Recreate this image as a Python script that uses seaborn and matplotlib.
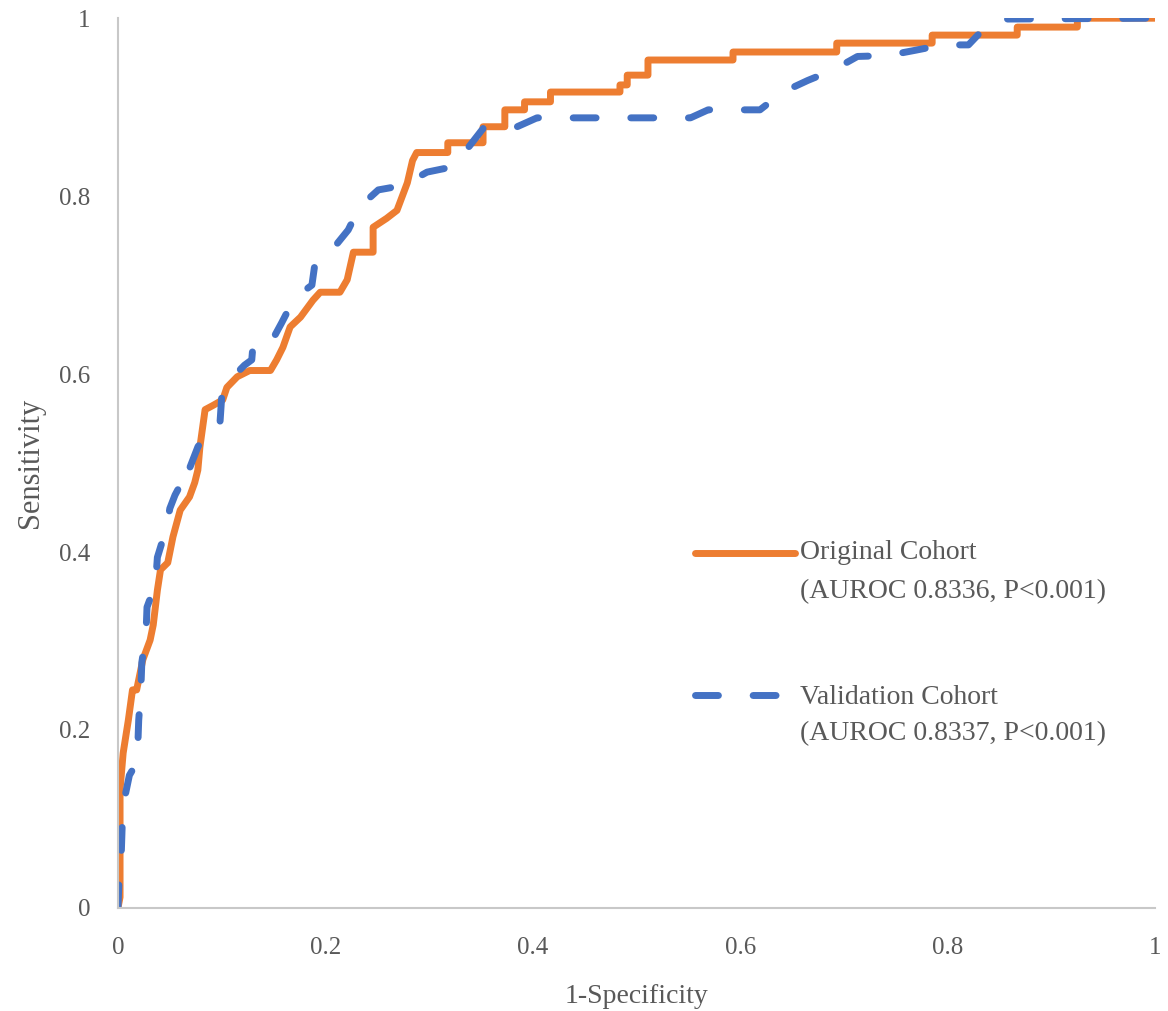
import pandas as pd
import matplotlib.pyplot as plt
import seaborn as sns

# ROC points (1-specificity, sensitivity)
orig_fpr = [0, 0.002, 0.002, 0.005, 0.010, 0.014, 0.018, 0.024, 0.031, 0.034, 0.038, 0.041,
            0.048, 0.053, 0.060, 0.069, 0.074, 0.077, 0.079, 0.084, 0.092, 0.101, 0.105, 0.115,
            0.127, 0.147, 0.153, 0.159, 0.166, 0.176, 0.188, 0.195, 0.214, 0.221, 0.227, 0.246,
            0.246, 0.259, 0.269, 0.279, 0.284, 0.288, 0.318, 0.318, 0.352, 0.352, 0.373, 0.373,
            0.392, 0.392, 0.417, 0.417, 0.484, 0.484, 0.491, 0.491, 0.511, 0.511, 0.593, 0.593,
            0.693, 0.693, 0.785, 0.785, 0.867, 0.867, 0.925, 0.925, 1.0]
orig_tpr = [0, 0.012, 0.133, 0.174, 0.211, 0.245, 0.245, 0.279, 0.301, 0.318, 0.357, 0.380,
            0.388, 0.417, 0.447, 0.462, 0.478, 0.492, 0.518, 0.560, 0.565, 0.571, 0.585, 0.597,
            0.604, 0.604, 0.616, 0.630, 0.653, 0.664, 0.683, 0.692, 0.692, 0.706, 0.737, 0.737,
            0.765, 0.775, 0.784, 0.815, 0.840, 0.849, 0.849, 0.860, 0.860, 0.878, 0.878, 0.897,
            0.897, 0.906, 0.906, 0.917, 0.917, 0.925, 0.925, 0.936, 0.936, 0.953, 0.953, 0.962,
            0.962, 0.972, 0.972, 0.981, 0.981, 0.990, 0.990, 1.0, 1.0]

valid_fpr = [0, 0.001, 0.003, 0.004, 0.006, 0.011, 0.017, 0.019, 0.020, 0.022, 0.023, 0.027,
             0.028, 0.034, 0.036, 0.038, 0.043, 0.046, 0.050, 0.055, 0.060, 0.070, 0.069, 0.077,
             0.079, 0.098, 0.100, 0.111, 0.122, 0.129, 0.130, 0.145, 0.158, 0.169, 0.180, 0.187,
             0.190, 0.206, 0.222, 0.233, 0.251, 0.275, 0.298, 0.323, 0.338, 0.352, 0.381, 0.404,
             0.552, 0.569, 0.619, 0.641, 0.665, 0.690, 0.713, 0.742, 0.769, 0.795, 0.820, 0.838,
             0.851, 1.0]
valid_tpr = [0, 0.031, 0.054, 0.090, 0.121, 0.149, 0.161, 0.178, 0.211, 0.243, 0.276, 0.307,
             0.338, 0.357, 0.361, 0.394, 0.413, 0.421, 0.449, 0.464, 0.475, 0.474, 0.494, 0.518,
             0.522, 0.539, 0.574, 0.597, 0.610, 0.616, 0.630, 0.630, 0.658, 0.683, 0.694, 0.700,
             0.725, 0.739, 0.762, 0.788, 0.807, 0.812, 0.827, 0.833, 0.855, 0.876, 0.876, 0.888,
             0.888, 0.897, 0.897, 0.917, 0.930, 0.942, 0.957, 0.958, 0.964, 0.970, 0.970, 0.992,
             0.999, 1.0]

ticks = [0, 0.2, 0.4, 0.6, 0.8, 1]
tick_labels = ['0', '0.2', '0.4', '0.6', '0.8', '1']
orig_label = ['Original Cohort', '(AUROC 0.8336, P<0.001)']
valid_label = ['Validation Cohort', '(AUROC 0.8337, P<0.001)']

orange = '#ED7D31'
blue = '#4472C4'
grey_text = '#595959'

df_orig = pd.DataFrame({'fpr': orig_fpr, 'tpr': orig_tpr})
df_valid = pd.DataFrame({'fpr': valid_fpr, 'tpr': valid_tpr})

sns.set_theme(style="white")
plt.rcParams['font.family'] = ['Liberation Serif', 'DejaVu Serif']

fig = plt.figure(figsize=(11.68, 10.11), dpi=100)
ax = fig.add_axes([0.101, 0.102, 0.888, 0.880])

sns.lineplot(data=df_orig, x='fpr', y='tpr', sort=False, estimator=None,
             color=orange, linewidth=5, ax=ax)
sns.lineplot(data=df_valid, x='fpr', y='tpr', sort=False, estimator=None,
             color=blue, linewidth=5, ax=ax)
ax.lines[1].set_dashes((3.3, 5.0))
ax.lines[1].set_dash_capstyle('round')
ax.lines[0].set_solid_capstyle('butt')

ax.set_xlim(0, 1)
ax.set_ylim(0, 1)
ax.set_xticks(ticks)
ax.set_xticklabels(tick_labels)
ax.set_yticks(ticks)
ax.set_yticklabels(tick_labels)
ax.tick_params(axis='both', length=0, labelsize=18, colors=grey_text)
ax.tick_params(axis='x', pad=21)
ax.tick_params(axis='y', pad=20)

for side in ['top', 'right']:
    ax.spines[side].set_visible(False)
for side in ['left', 'bottom']:
    ax.spines[side].set_color('#C8C8C8')
    ax.spines[side].set_linewidth(1.5)

ax.set_xlabel('1-Specificity', fontsize=20, color=grey_text, labelpad=18)
ax.set_ylabel('Sensitivity', fontsize=22, color=grey_text, labelpad=10)

# legend drawn by hand so the handle sits next to the first text line
ax.plot([0.556, 0.653], [0.399, 0.399], transform=ax.transAxes, color=orange,
        linewidth=5, solid_capstyle='round', clip_on=False)
ax.plot([0.556, 0.653], [0.239, 0.239], transform=ax.transAxes, color=blue,
        linewidth=5, dashes=(3.3, 5.0), dash_capstyle='round', clip_on=False)
ax.text(0.658, 0.399, orig_label[0], transform=ax.transAxes, fontsize=20,
        color=grey_text, va='center')
ax.text(0.658, 0.356, orig_label[1], transform=ax.transAxes, fontsize=20,
        color=grey_text, va='center')
ax.text(0.658, 0.237, valid_label[0], transform=ax.transAxes, fontsize=20,
        color=grey_text, va='center')
ax.text(0.658, 0.196, valid_label[1], transform=ax.transAxes, fontsize=20,
        color=grey_text, va='center')

plt.savefig('out.png', dpi=100)
